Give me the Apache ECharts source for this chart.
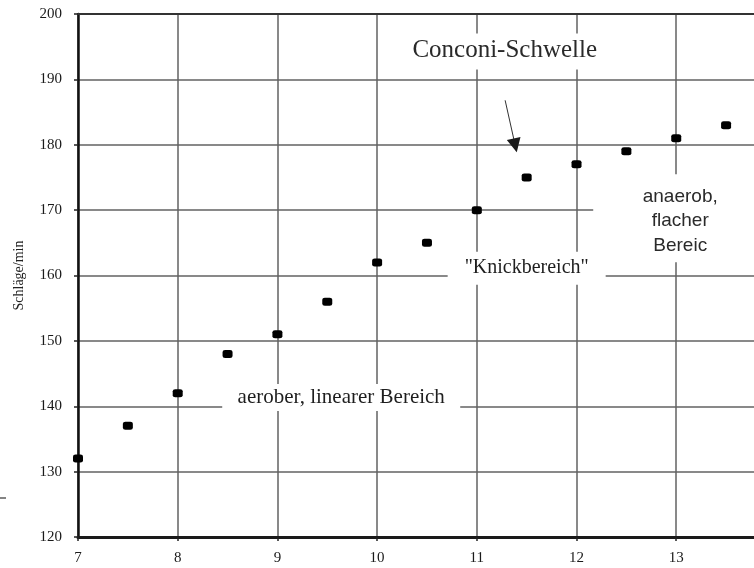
<!DOCTYPE html>
<html>
<head>
<meta charset="utf-8">
<script src="https://cdn.jsdelivr.net/npm/echarts@6/dist/echarts.min.js"></script>
<style>html,body{margin:0;padding:0;background:#fff;}#c{width:754px;height:568px;}</style>
</head>
<body>
<div id="c"></div>
<script>
// Data
var speeds = [7, 7.5, 8, 8.5, 9, 9.5, 10, 10.5, 11, 11.5, 12, 12.5, 13, 13.5];
var heartRates = [132, 137, 142, 148, 151, 156, 162, 165, 170, 175, 177, 179, 181, 183];
var yTicks = [120, 130, 140, 150, 160, 170, 180, 190, 200];
var xTicks = [7, 8, 9, 10, 11, 12, 13];
var yAxisName = 'Schläge/min';

var serif = "'Liberation Serif', 'DejaVu Serif', serif";
var sans = "'Liberation Sans', Arial, sans-serif";

var points = speeds.map(function (s, i) { return [s, heartRates[i]]; });

var chart = echarts.init(document.getElementById('c'));
chart.setOption({
  animation: false,
  backgroundColor: '#fff',
  grid: { left: 78, right: 0, top: 14, bottom: 31, containLabel: false },
  xAxis: [{
    type: 'value', min: 7, max: 13.78, interval: 1, position: 'bottom',
    axisLine: { show: true, onZero: false, lineStyle: { color: '#1a1a1a', width: 3 } },
    axisTick: { show: true, length: 4, lineStyle: { color: '#222', width: 1.5 } },
    axisLabel: { show: true, margin: 14, color: '#1a1a1a', fontFamily: serif, fontSize: 15,
      showMaxLabel: false,
      formatter: function (v) { return xTicks.indexOf(v) >= 0 ? String(v) : ''; } },
    splitLine: { show: true, showMaxLine: false, lineStyle: { color: '#626262', width: 1.5 } }
  }, {
    type: 'value', min: 7, max: 13.78, interval: 1, position: 'top',
    axisLine: { show: true, onZero: false, lineStyle: { color: '#333', width: 2 } },
    axisTick: { show: false }, axisLabel: { show: false }, splitLine: { show: false }
  }],
  yAxis: {
    type: 'value', min: yTicks[0], max: yTicks[yTicks.length - 1], interval: 10,
    name: yAxisName, nameLocation: 'middle', nameGap: 52, nameRotate: 90,
    nameTextStyle: { color: '#222', fontFamily: serif, fontSize: 14 },
    axisLine: { show: true, onZero: false, lineStyle: { color: '#111', width: 2.5 } },
    axisTick: { show: true, length: 4, lineStyle: { color: '#222', width: 1.5 } },
    axisLabel: { margin: 16, color: '#1a1a1a', fontFamily: serif, fontSize: 15 },
    splitLine: { show: true, lineStyle: { color: '#626262', width: 1.5 } }
  },
  series: [{
    type: 'scatter', z: 5,
    data: points,
    symbol: 'roundRect', symbolSize: [10, 8],
    itemStyle: { color: '#000', opacity: 1 },
    markLine: {
      silent: true, animation: false,
      symbol: ['none', 'triangle'], symbolSize: 14,
      lineStyle: { color: '#1a1a1a', width: 0.9, type: 'solid', opacity: 1 },
      label: { show: false },
      emphasis: { disabled: true },
      data: [[{ coord: [11.284, 186.8] }, { coord: [11.385, 179.9] }]]
    }
  }]
});

// Annotations anchored in data coordinates (text centre), with white boxes
var annotations = [
  { text: 'Conconi-Schwelle', at: [11.28, 194.4], font: serif, size: 25, color: '#2a2a2a', box: [-102, -17, 204, 36], lh: 26 },
  { text: '"Knickbereich"', at: [11.50, 161.2], font: serif, size: 20, color: '#1e1e1e', box: [-79, -16, 158, 33], lh: 22 },
  { text: 'aerober, linearer Bereich', at: [9.64, 141.4], font: serif, size: 21, color: '#1e1e1e', box: [-119, -13, 238, 27], lh: 22 },
  { text: 'anaerob,\nflacher\nBereic', at: [13.04, 168.3], font: sans, size: 19, color: '#2a2a2a', box: [-87, -47, 175, 88], lh: 24.5 }
];

var elements = [];
annotations.forEach(function (a) {
  var p = chart.convertToPixel({ gridIndex: 0 }, a.at);
  elements.push({
    type: 'rect', z: 3, silent: true,
    shape: { x: p[0] + a.box[0], y: p[1] + a.box[1], width: a.box[2], height: a.box[3] },
    style: { fill: '#fff' }
  });
  elements.push({
    type: 'text', z: 4, silent: true, x: p[0], y: p[1],
    style: { text: a.text, fill: a.color, font: a.size + 'px ' + a.font,
      align: 'center', verticalAlign: 'middle', lineHeight: a.lh }
  });
});
// stray scan mark at the left edge
elements.push({ type: 'line', z: 3, silent: true, shape: { x1: 0, y1: 498, x2: 6, y2: 498 }, style: { stroke: '#333', lineWidth: 1.2 } });

chart.setOption({ graphic: { elements: elements } });
</script>
</body>
</html>
